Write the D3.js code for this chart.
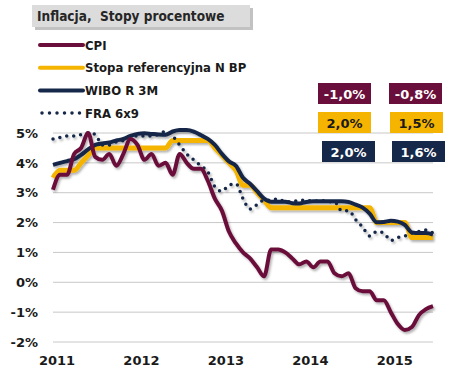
<!DOCTYPE html>
<html>
<head>
<meta charset="utf-8">
<script src="https://cdn.jsdelivr.net/npm/d3@7"></script>
<style>
  body { margin: 0; background: #fff; }
  svg { display: block; }
  text { font-family: "DejaVu Sans Condensed", "DejaVu Sans", sans-serif; font-weight: bold; }
</style>
</head>
<body>
<svg id="chart" width="460" height="373"></svg>
<script>
// monthly data, Dec 2010 .. Jun 2015 (index 0 = Dec 2010)
var cpi = [3.1,
  3.6, 3.6, 4.3, 4.5, 5.0, 4.2, 4.1, 4.3, 3.9, 4.3, 4.8, 4.6,
  4.1, 4.3, 3.9, 4.0, 3.6, 4.3, 4.0, 3.8, 3.8, 3.4, 2.8, 2.4,
  1.7, 1.3, 1.0, 0.8, 0.5, 0.2, 1.1, 1.1, 1.0, 0.8, 0.6, 0.7,
  0.5, 0.7, 0.7, 0.3, 0.2, 0.3, -0.2, -0.3, -0.3, -0.6, -0.6, -1.0,
  -1.4, -1.6, -1.5, -1.1, -0.9, -0.8];
var stopaNbp = [3.5,
  3.75, 3.75, 3.75, 4.0, 4.25, 4.5, 4.5, 4.5, 4.5, 4.5, 4.5, 4.5,
  4.5, 4.5, 4.5, 4.5, 4.75, 4.75, 4.75, 4.75, 4.75, 4.75, 4.5, 4.25,
  4.0, 3.75, 3.25, 3.25, 3.0, 2.75, 2.5, 2.5, 2.5, 2.5, 2.5, 2.5,
  2.5, 2.5, 2.5, 2.5, 2.5, 2.5, 2.5, 2.5, 2.5, 2.0, 2.0, 2.0,
  2.0, 2.0, 1.5, 1.5, 1.5, 1.5];
var wibor3m = [3.93,
  4.0, 4.06, 4.12, 4.27, 4.45, 4.6, 4.65, 4.68, 4.75, 4.8, 4.9, 4.97,
  4.99, 4.97, 4.95, 4.94, 5.05, 5.1, 5.1, 5.05, 4.93, 4.8, 4.6, 4.3,
  4.05, 3.9, 3.5, 3.3, 3.05, 2.8, 2.7, 2.7, 2.7, 2.65, 2.64, 2.69,
  2.71, 2.71, 2.71, 2.71, 2.71, 2.69, 2.6, 2.5, 2.3, 2.01, 2.02, 2.06,
  2.03, 1.92, 1.67, 1.65, 1.65, 1.6];
var fra6x9 = [4.8,
  4.85, 4.9, 4.9, 4.95, 5.0, 4.95, 4.6, 4.6, 4.7, 4.75, 4.85, 4.9,
  4.9, 4.9, 4.95, 5.05, 4.9, 4.6, 4.3, 4.1, 3.9, 3.7, 3.2, 3.05,
  3.25, 3.3, 2.8, 2.45, 2.6, 2.75, 2.75, 2.8, 2.7, 2.7, 2.75, 2.75,
  2.7, 2.75, 2.7, 2.7, 2.4, 2.4, 2.1, 1.85, 1.55, 1.7, 1.65, 1.4,
  1.5, 1.55, 1.65, 1.7, 1.75, 1.65];

var yearLabels = ["2011", "2012", "2013", "2014", "2015"];
var yTicks = [-2, -1, 0, 1, 2, 3, 4, 5];
var legendNames = ["CPI", "Stopa referencyjna N BP", "WIBO R 3M", "FRA 6x9"];
var boxValues = [["-1,0%", "-0,8%"], ["2,0%", "1,5%"], ["2,0%", "1,6%"]];

var colors = { cpi: "#6a0f3b", nbp: "#f5b400", wibor: "#15284a" };

var svg = d3.select("#chart");

var x = d3.scaleLinear().domain([0, cpi.length - 1]).range([53, 433]),
    y = d3.scaleLinear().domain([-2, 5]).range([342, 133]);

// soft shadow like the spreadsheet original
var defs = svg.append("defs");
defs.append("filter").attr("id", "shadow")
    .attr("x", "-10%").attr("y", "-10%").attr("width", "120%").attr("height", "130%")
  .append("feDropShadow")
    .attr("dx", 1.5).attr("dy", 2).attr("stdDeviation", 1.2)
    .attr("flood-color", "#000").attr("flood-opacity", 0.3);

// title box
svg.append("rect").attr("x", 35).attr("y", 8).attr("width", 218).attr("height", 22)
    .attr("fill", "#9a9a9a").attr("opacity", 0.6);
svg.append("rect").attr("x", 32).attr("y", 5).attr("width", 218).attr("height", 22)
    .attr("fill", "#dcdcdc");
svg.append("text").attr("x", 37).attr("y", 21)
    .attr("font-size", 13.5).attr("fill", "#262626")
    .style("white-space", "pre")
    .text("Inflacja,  Stopy procentowe");

// gridlines
svg.append("g")
  .selectAll("line")
  .data(yTicks)
  .enter().append("line")
    .attr("x1", x.range()[0]).attr("x2", x.range()[1])
    .attr("y1", function(d) { return y(d); })
    .attr("y2", function(d) { return y(d); })
    .attr("stroke", "#c8c8c8").attr("stroke-width", 1);

// y axis labels
var yAxis = svg.append("g")
    .attr("transform", "translate(40,0)")
    .call(d3.axisLeft(y).tickValues(yTicks).tickSize(0).tickPadding(2)
      .tickFormat(function(d) { return d + "%"; }));
yAxis.select(".domain").remove();
yAxis.selectAll("text").attr("font-size", 13).attr("fill", "#1a1a1a")
    .style("font-family", "'DejaVu Sans', sans-serif");

// x axis labels, between Dec and Jan
var xAxis = svg.append("g")
    .attr("transform", "translate(0,352)")
    .call(d3.axisBottom(x).tickValues([0.5, 12.5, 24.5, 36.5, 48.5]).tickSize(0).tickPadding(4)
      .tickFormat(function(d, i) { return yearLabels[i]; }));
xAxis.select(".domain").remove();
xAxis.selectAll("text").attr("font-size", 13).attr("fill", "#1a1a1a")
    .style("font-family", "'DejaVu Sans', sans-serif");

var line = d3.line()
    .x(function(d, i) { return x(i); })
    .y(function(d) { return y(d); })
    .curve(d3.curveMonotoneX);

var plot = svg.append("g").attr("filter", "url(#shadow)");

plot.append("path").datum(stopaNbp)
    .attr("d", line).attr("fill", "none")
    .attr("stroke", colors.nbp).attr("stroke-width", 5);

plot.append("path").datum(fra6x9)
    .attr("d", line).attr("fill", "none")
    .attr("stroke", colors.wibor).attr("stroke-width", 3.5)
    .attr("stroke-linecap", "round").attr("stroke-dasharray", "0,7");

plot.append("path").datum(wibor3m)
    .attr("d", line).attr("fill", "none")
    .attr("stroke", colors.wibor).attr("stroke-width", 4)
    .attr("stroke-linejoin", "round");

plot.append("path").datum(cpi)
    .attr("d", line).attr("fill", "none")
    .attr("stroke", colors.cpi).attr("stroke-width", 4)
    .attr("stroke-linejoin", "round");

// legend
var legendColors = [colors.cpi, colors.nbp, colors.wibor, colors.wibor];
var legend = svg.append("g")
  .selectAll("g")
  .data(legendNames)
  .enter().append("g")
    .attr("transform", function(d, i) { return "translate(40," + (45 + i * 22.7) + ")"; });

legend.append("line")
    .attr("x1", function(d, i) { return i === 3 ? 2 : 0; }).attr("x2", 43)
    .attr("stroke", function(d, i) { return legendColors[i]; })
    .attr("stroke-width", function(d, i) { return i === 3 ? 3.5 : 4; })
    .attr("stroke-linecap", "round")
    .attr("stroke-dasharray", function(d, i) { return i === 3 ? "0,7.5" : null; });

legend.append("text")
    .attr("x", 45).attr("dy", "0.36em")
    .attr("font-size", 13).attr("fill", "#1a1a1a")
    .text(function(d) { return d; });

// value boxes
var boxFill = [colors.cpi, colors.nbp, colors.wibor],
    boxText = ["#ffffff", "#1a1a1a", "#ffffff"],
    boxX = [[318, 389], [318, 390], [322, 392]],
    boxY = [83, 112, 141];

boxValues.forEach(function(row, r) {
  row.forEach(function(v, c) {
    var g = svg.append("g").attr("transform", "translate(" + boxX[r][c] + "," + boxY[r] + ")");
    g.append("rect").attr("width", 53).attr("height", 21).attr("fill", boxFill[r]);
    g.append("text").attr("x", 26.5).attr("y", 15.5)
        .attr("text-anchor", "middle").attr("font-size", 13)
        .attr("fill", boxText[r])
        .style("font-family", "'DejaVu Sans', sans-serif")
        .text(v);
  });
});
</script>
</body>
</html>
